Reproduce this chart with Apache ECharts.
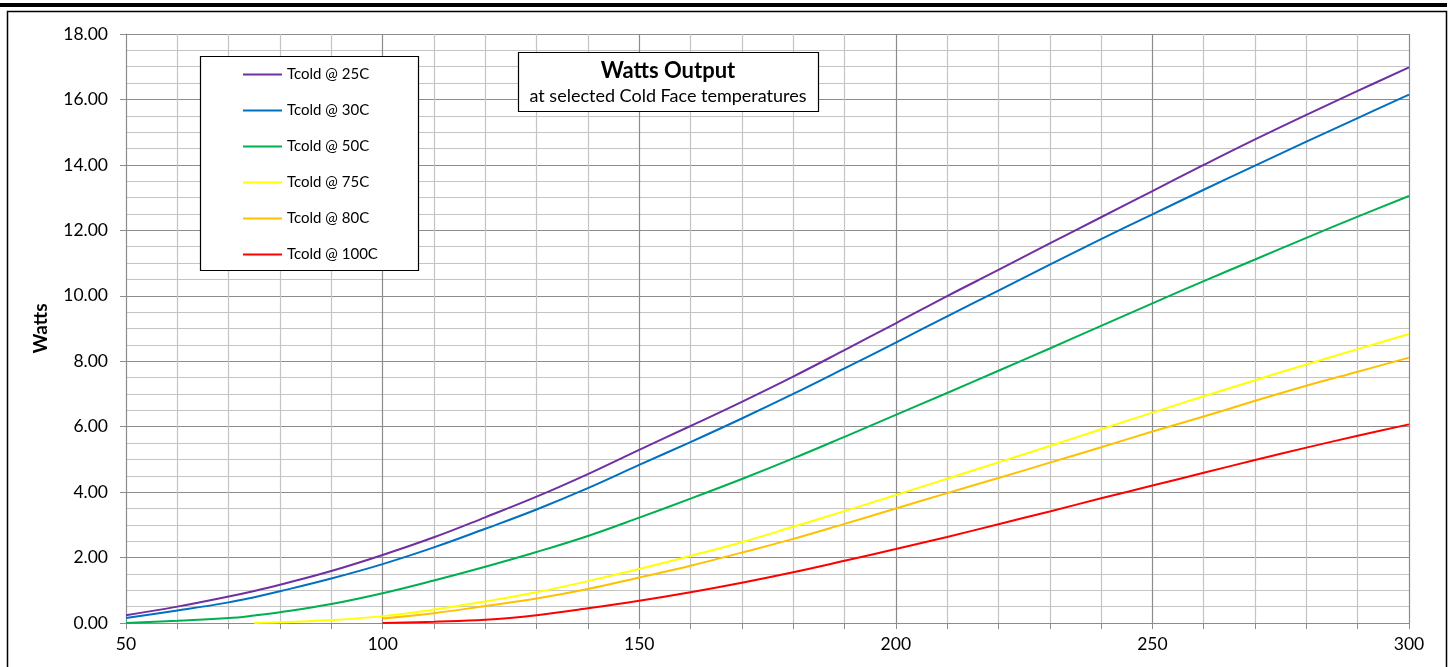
<!DOCTYPE html>
<html>
<head>
<meta charset="utf-8">
<script src="https://cdn.jsdelivr.net/npm/echarts@6/dist/echarts.min.js"></script>
<style>
  html, body { margin: 0; padding: 0; background: #fff; }
  #chart { width: 1449px; height: 667px; }
</style>
</head>
<body>
<div id="chart"></div>
<script>
// 热面温度 (x) 与各冷面温度下的输出功率
const xs = [50, 60, 70, 75, 80, 90, 100, 110, 120, 130, 140, 150, 160, 170, 180, 190, 200, 210, 220, 230, 240, 250, 260, 270, 280, 290, 300];
const tcold25 = [0.24, 0.50, 0.81, 0.98, 1.17, 1.59, 2.08, 2.62, 3.23, 3.86, 4.55, 5.29, 6.02, 6.76, 7.53, 8.34, 9.16, 9.99, 10.79, 11.60, 12.40, 13.20, 14.00, 14.78, 15.53, 16.26, 16.98];
const tcold30 = [0.15, 0.38, 0.63, 0.79, 0.97, 1.36, 1.80, 2.31, 2.88, 3.47, 4.12, 4.83, 5.53, 6.25, 7.00, 7.78, 8.57, 9.37, 10.16, 10.95, 11.73, 12.49, 13.24, 13.98, 14.71, 15.43, 16.15];
const tcold50 = [0.00, 0.07, 0.15, 0.23, 0.33, 0.58, 0.91, 1.30, 1.72, 2.17, 2.66, 3.22, 3.80, 4.40, 5.03, 5.69, 6.36, 7.03, 7.71, 8.39, 9.08, 9.77, 10.45, 11.11, 11.77, 12.42, 13.05];
const tcold75 = [null, null, null, 0.00, 0.02, 0.09, 0.21, 0.41, 0.66, 0.94, 1.28, 1.65, 2.05, 2.47, 2.94, 3.42, 3.91, 4.41, 4.91, 5.41, 5.92, 6.43, 6.93, 7.42, 7.90, 8.37, 8.83];
const tcold80 = [null, null, null, null, null, null, 0.14, 0.30, 0.52, 0.75, 1.04, 1.39, 1.75, 2.15, 2.57, 3.03, 3.50, 3.97, 4.43, 4.90, 5.37, 5.85, 6.31, 6.79, 7.25, 7.68, 8.11];
const tcold100 = [null, null, null, null, null, null, 0.00, 0.04, 0.10, 0.24, 0.45, 0.68, 0.94, 1.23, 1.55, 1.90, 2.26, 2.63, 3.02, 3.41, 3.81, 4.20, 4.59, 4.98, 5.36, 5.72, 6.07];

const seriesNames = ['Tcold @ 25C', 'Tcold @ 30C', 'Tcold @ 50C', 'Tcold @ 75C', 'Tcold @ 80C', 'Tcold @ 100C'];
const seriesValues = [tcold25, tcold30, tcold50, tcold75, tcold80, tcold100];
const seriesColors = ['#7030A0', '#0070C0', '#00B050', '#FFFF00', '#FFC000', '#FF0000'];

const font = 'Lato, "Open Sans", sans-serif';
const majorGrid = '#8C8C8C';
const minorGrid = '#C4C4C4';

const myChart = echarts.init(document.getElementById('chart'));

const series = seriesNames.map((name, k) => ({
    name: name,
    type: 'line',
    smooth: 0.4,
    symbol: 'none',
    color: seriesColors[k],
    lineStyle: { width: 2 },
    data: xs.map((x, i) => [x, seriesValues[k][i]]).filter(p => p[1] !== null)
}));

const option = {
    animation: false,
    backgroundColor: '#fff',
    textStyle: { fontFamily: font },
    grid: { left: 126, right: 40, top: 34, bottom: 44 },
    legend: {
        z: 10,
        orient: 'vertical',
        left: 238,
        top: 62,
        itemWidth: 39,
        itemHeight: 2,
        itemGap: 21,
        icon: 'rect',
        textStyle: { color: '#000', fontSize: 15, fontFamily: font },
        data: seriesNames
    },
    xAxis: {
        type: 'value',
        min: 50,
        max: 300,
        interval: 50,
        axisLine: { show: true, lineStyle: { color: majorGrid } },
        axisTick: { show: true, length: 6, lineStyle: { color: majorGrid } },
        minorTick: { show: true, splitNumber: 5, length: 6, lineStyle: { color: majorGrid } },
        splitLine: { show: true, lineStyle: { color: majorGrid, width: 1.2 } },
        minorSplitLine: { show: true, lineStyle: { color: minorGrid, width: 1.2 } },
        axisLabel: { color: '#000', fontSize: 17.5, margin: 12, fontFamily: font }
    },
    yAxis: {
        type: 'value',
        min: 0,
        max: 18,
        interval: 2,
        name: 'Watts',
        nameLocation: 'middle',
        nameGap: 76,
        nameTextStyle: { color: '#000', fontSize: 19, fontWeight: 'bold', fontFamily: font },
        axisLine: { show: true, lineStyle: { color: majorGrid } },
        axisTick: { show: true, length: 6, lineStyle: { color: majorGrid } },
        splitLine: { show: true, lineStyle: { color: majorGrid, width: 1.2 } },
        minorSplitLine: { show: true, lineStyle: { color: minorGrid, width: 1.2 } },
        minorTick: { show: false, splitNumber: 4 },
        axisLabel: {
            color: '#000',
            fontSize: 17.5,
            margin: 18,
            fontFamily: font,
            formatter: v => v.toFixed(2)
        }
    },
    graphic: [
        // 外框
        { type: 'rect', z: -1, shape: { x: 0, y: 3, width: 1447, height: 4 }, style: { fill: '#000' } },
        { type: 'rect', z: -1, shape: { x: 7.5, y: 11.5, width: 1439, height: 700 }, style: { fill: '#fff', stroke: '#000', lineWidth: 1.5 } },
        // 图例框
        { type: 'rect', z: 3, shape: { x: 200.5, y: 56.5, width: 218, height: 214 }, style: { fill: '#fff', stroke: '#000', lineWidth: 1.2 } },
        // 标题框
        { type: 'rect', z: 3, shape: { x: 518.5, y: 52.5, width: 300, height: 59 }, style: { fill: '#fff', stroke: '#000', lineWidth: 1.2 } },
        { type: 'text', z: 6, x: 668, y: 71, style: { text: 'Watts Output', fill: '#000', font: 'bold 22px ' + font, textAlign: 'center', textVerticalAlign: 'middle' } },
        { type: 'text', z: 6, x: 668, y: 96, style: { text: 'at selected Cold Face temperatures', fill: '#000', font: '18px ' + font, textAlign: 'center', textVerticalAlign: 'middle' } }
    ],
    series: series
};

myChart.setOption(option);
window.addEventListener('resize', () => {
    myChart.resize()
});
</script>
</body>
</html>
